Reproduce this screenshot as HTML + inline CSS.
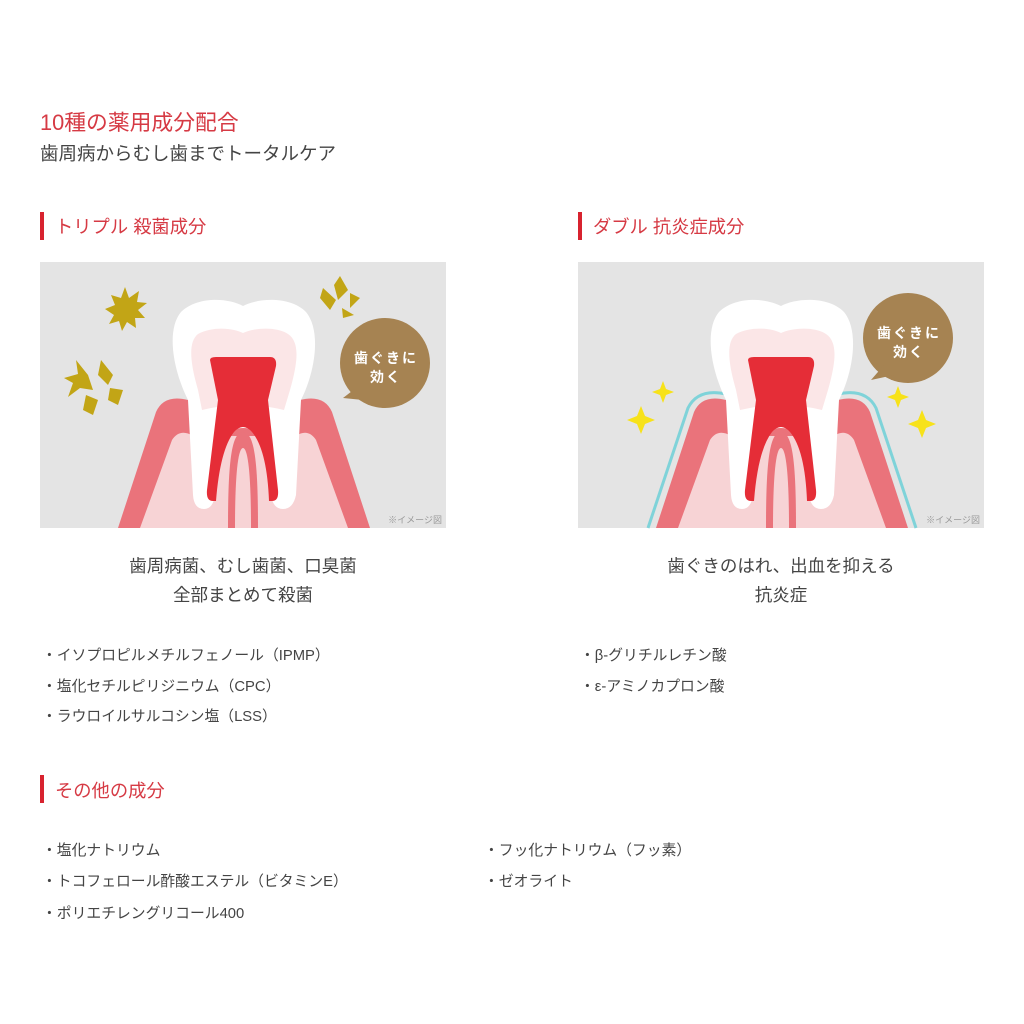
<!DOCTYPE html>
<html><head><meta charset="utf-8"><style>
body{margin:0;width:1024px;height:1024px;background:#fff;position:relative;overflow:hidden;font-family:"Liberation Sans","Noto Sans CJK JP",sans-serif;}
.t{position:absolute;white-space:nowrap;line-height:1;}
.red{color:#d63a44}
.g{color:#444}
.bar{position:absolute;width:4px;background:#d8232f;}
.li{position:absolute;font-size:14.8px;color:#444;white-space:nowrap;line-height:1;}
.cap{position:absolute;font-size:17.5px;color:#444;text-align:center;width:406px;line-height:29px;}
</style></head><body>
<div class="t red" style="left:40px;top:112px;font-size:21.8px;">10種の薬用成分配合</div>
<div class="t g" style="left:40px;top:145px;font-size:18.5px;">歯周病からむし歯までトータルケア</div>

<div class="bar" style="left:40px;top:212px;height:28px"></div>
<div class="t red" style="left:55px;top:218px;font-size:18.3px;">トリプル 殺菌成分</div>
<div class="bar" style="left:578px;top:212px;height:28px"></div>
<div class="t red" style="left:593px;top:218px;font-size:18.3px;">ダブル 抗炎症成分</div>

<svg style="position:absolute;left:38px;top:260px" width="410" height="272" viewBox="0 0 410 272">
<defs>
<clipPath id="cp"><rect x="2" y="2" width="406" height="266"/></clipPath>
<g id="tooth">
<path d="M80,268 L118,152 Q126,134 150,140 L262,140 Q286,134 294,152 L332,268 Z" fill="#ea737b"/>
<path d="M102,268 L134,180 Q142,168 155,176 L258,176 Q270,168 278,180 L310,268 Z" fill="#f7d3d5"/>
<path d="M150,140 C135,110 128,70 143,52 C160,36 190,38 205,46 C220,38 252,36 268,52 C283,70 278,110 263,140 L258,235 Q255,249 245,249 Q235,249 233,235 L228,192 Q225,168 205,168 Q185,168 182,192 L177,235 Q175,249 166,249 Q156,249 155,235 Z" fill="#fff"/>
<path d="M160,130 C152,102 150,82 160,74 C175,66 195,68 205,73 C215,68 238,66 250,74 C262,82 260,102 252,130 L246,150 Q205,140 164,150 Z" fill="#fbe6e7"/>
<path d="M172,100 Q172,97 178,97 L232,97 Q239,97 238,106 L230,140 L240,230 Q241,241 234,241 L231,241 Q229,190 214,172 Q205,162 196,172 Q182,190 178,241 L175,241 Q168,241 169,230 L180,140 Z" fill="#e52d37"/>
<path d="M190,268 C190,205 193,172 205,172 C217,172 220,205 220,268 Z" fill="#ea737b"/>
<path d="M197,268 C197,215 200,188 205,188 C210,188 213,215 213,268 Z" fill="#f7d3d5"/>
</g>
</defs>
<rect x="2" y="2" width="406" height="266" fill="#e4e4e4"/>
<use href="#tooth" clip-path="url(#cp)"/>
<polygon points="87,27 91,38 101,31 99,42 109,43 100,50 107,58 97,58 98,68 89,62 84,71 81,61 71,64 76,55 67,49 77,45 73,35 83,38" fill="#c2a516"/>
<polygon points="38,100 50,115 55,130 42,128 30,137 35,123 26,118 40,114" fill="#c2a516"/>
<polygon points="63,100 75,115 70,125 60,115" fill="#c2a516"/>
<polygon points="72,128 85,130 80,145 70,140" fill="#c2a516"/>
<polygon points="48,135 60,140 55,155 45,150" fill="#c2a516"/>
<polygon points="302,16 310,30 300,40 296,25" fill="#c2a516"/>
<polygon points="285,28 298,40 292,50 282,38" fill="#c2a516"/>
<polygon points="312,33 322,38 312,48" fill="#c2a516"/>
<polygon points="304,48 316,55 305,58" fill="#c2a516"/>
<circle cx="347" cy="103" r="45" fill="#a68352"/>
<polygon points="305,138 318,128 325,140" fill="#a68352"/>
<text x="348" y="103" font-size="14" letter-spacing="2" fill="#fff" text-anchor="middle" font-weight="bold" font-family="Liberation Sans,Noto Sans CJK JP,sans-serif">歯ぐきに</text>
<text x="348" y="122" font-size="14" letter-spacing="2" fill="#fff" text-anchor="middle" font-weight="bold" font-family="Liberation Sans,Noto Sans CJK JP,sans-serif">効く</text>
<text x="404" y="263" font-size="9" fill="#999" text-anchor="end" font-family="Liberation Sans,Noto Sans CJK JP,sans-serif">※イメージ図</text>
</svg>

<svg style="position:absolute;left:576px;top:260px" width="410" height="272" viewBox="0 0 410 272">
<defs><clipPath id="cp2"><rect x="2" y="2" width="406" height="266"/></clipPath></defs>
<rect x="2" y="2" width="406" height="266" fill="#e4e4e4"/>
<path d="M72,268 L112,148 Q122,128 150,134 L262,134 Q290,128 300,148 L340,268" fill="none" stroke="#7fd3d9" stroke-width="3"/>
<use href="#tooth" clip-path="url(#cp2)"/>
<path d="M87,121 L90,129 L98,132 L90,135 L87,143 L84,135 L76,132 L84,129 Z" fill="#f7e21a"/>
<path d="M65,146 L69,156 L79,160 L69,164 L65,174 L61,164 L51,160 L61,156 Z" fill="#f7e21a"/>
<path d="M322,126 L325,134 L333,137 L325,140 L322,148 L319,140 L311,137 L319,134 Z" fill="#f7e21a"/>
<path d="M346,150 L350,160 L360,164 L350,168 L346,178 L342,168 L332,164 L342,160 Z" fill="#f7e21a"/>
<circle cx="332" cy="78" r="45" fill="#a68352"/>
<polygon points="295,120 308,105 318,115" fill="#a68352"/>
<text x="333" y="78" font-size="14" letter-spacing="2" fill="#fff" text-anchor="middle" font-weight="bold" font-family="Liberation Sans,Noto Sans CJK JP,sans-serif">歯ぐきに</text>
<text x="333" y="97" font-size="14" letter-spacing="2" fill="#fff" text-anchor="middle" font-weight="bold" font-family="Liberation Sans,Noto Sans CJK JP,sans-serif">効く</text>
<text x="404" y="263" font-size="9" fill="#999" text-anchor="end" font-family="Liberation Sans,Noto Sans CJK JP,sans-serif">※イメージ図</text>
</svg>

<div class="cap" style="left:40px;top:552px;">歯周病菌、むし歯菌、口臭菌<br>全部まとめて殺菌</div>
<div class="cap" style="left:578px;top:552px;">歯ぐきのはれ、出血を抑える<br>抗炎症</div>

<div class="li" style="left:42px;top:649px">・イソプロピルメチルフェノール（IPMP）</div>
<div class="li" style="left:42px;top:680px">・塩化セチルピリジニウム（CPC）</div>
<div class="li" style="left:42px;top:710px">・ラウロイルサルコシン塩（LSS）</div>
<div class="li" style="left:580px;top:649px">・β-グリチルレチン酸</div>
<div class="li" style="left:580px;top:680px">・ε-アミノカプロン酸</div>

<div class="bar" style="left:40px;top:775px;height:28px"></div>
<div class="t red" style="left:55px;top:782px;font-size:18.3px;">その他の成分</div>

<div class="li" style="left:42px;top:844px">・塩化ナトリウム</div>
<div class="li" style="left:42px;top:875px">・トコフェロール酢酸エステル（ビタミンE）</div>
<div class="li" style="left:42px;top:907px">・ポリエチレングリコール400</div>
<div class="li" style="left:484px;top:844px">・フッ化ナトリウム（フッ素）</div>
<div class="li" style="left:484px;top:875px">・ゼオライト</div>
</body></html>
